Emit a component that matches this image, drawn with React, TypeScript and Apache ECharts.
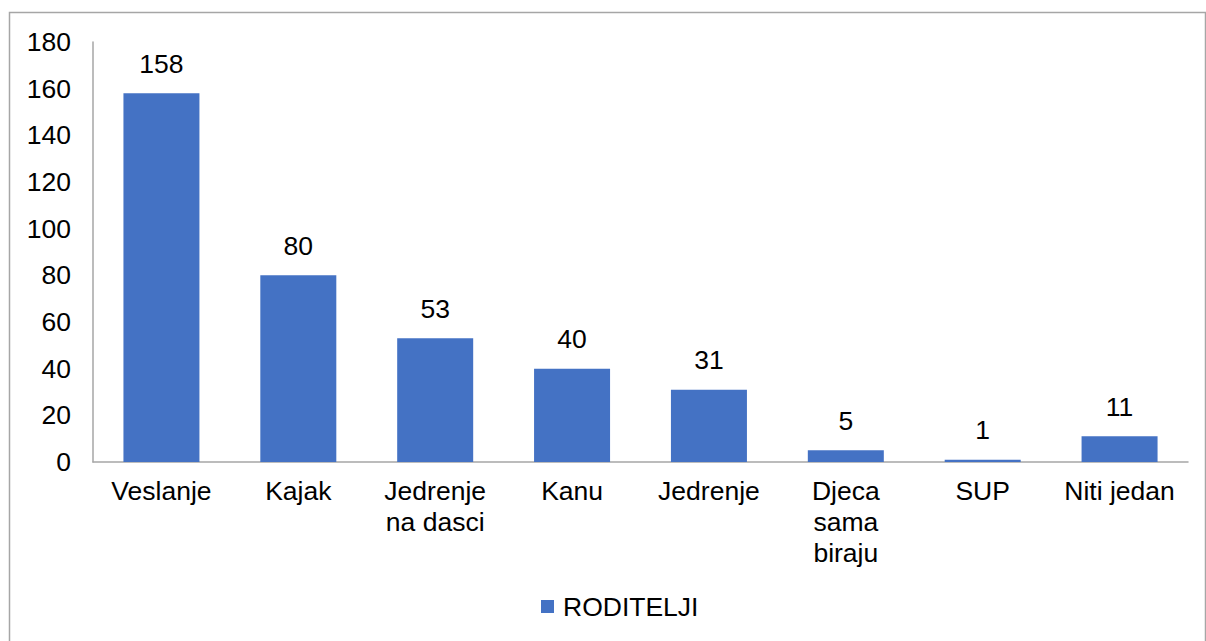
import React, { useEffect, useRef } from "react";
import * as echarts from "echarts";

const categories = ["Veslanje", "Kajak", "Jedrenje\nna dasci", "Kanu", "Jedrenje", "Djeca\nsama\nbiraju", "SUP", "Niti jedan"];
const values = [158, 80, 53, 40, 31, 5, 1, 11];
const seriesName = "RODITELJI";

export default function App() {
  const ref = useRef<HTMLDivElement>(null);
  useEffect(() => {
    const chart = echarts.init(ref.current!, null, { renderer: "svg" });
    const font = "Liberation Sans, Arial, sans-serif";
    const fs = 26.5;
    chart.setOption({
      animation: false,
      backgroundColor: "#ffffff",
      textStyle: { fontFamily: font },
      graphic: [
        {
          type: "rect",
          shape: { x: 9.5, y: 12.5, width: 1196, height: 640 },
          style: { fill: "none", stroke: "#a6a6a6", lineWidth: 1.5 },
          silent: true,
        },
      ],
      grid: { left: 93, right: 18, top: 42, bottom: 179, containLabel: false },
      legend: {
        bottom: 16,
        left: 536,
        itemWidth: 13,
        itemHeight: 13,
        itemGap: 8,
        icon: "rect",
        textStyle: { fontSize: fs, color: "#000", fontFamily: font, padding: [0, 0, 0, 4] },
        data: [seriesName],
      },
      xAxis: {
        type: "category",
        data: categories,
        axisLine: { show: true, lineStyle: { color: "#a6a6a6", width: 1.5 } },
        axisTick: { show: false },
        axisLabel: {
          interval: 0,
          fontSize: fs,
          color: "#000",
          margin: 13,
          lineHeight: 31,
          fontFamily: font,
        },
      },
      yAxis: {
        type: "value",
        min: 0,
        max: 180,
        interval: 20,
        axisLine: { show: true, lineStyle: { color: "#a6a6a6", width: 1.5 } },
        axisTick: { show: false },
        splitLine: { show: false },
        axisLabel: { fontSize: fs, color: "#000", margin: 22, fontFamily: font },
      },
      series: [
        {
          name: seriesName,
          type: "bar",
          data: values,
          barWidth: 76,
          itemStyle: { color: "#4472C4" },
          label: {
            show: true,
            position: "top",
            distance: 16,
            fontSize: fs,
            color: "#000",
            fontFamily: font,
          },
        },
      ],
    });
    return () => chart.dispose();
  }, []);
  return (
    <div
      ref={ref}
      style={{ position: "fixed", left: 0, top: 0, width: 1206, height: 641 }}
    />
  );
}
